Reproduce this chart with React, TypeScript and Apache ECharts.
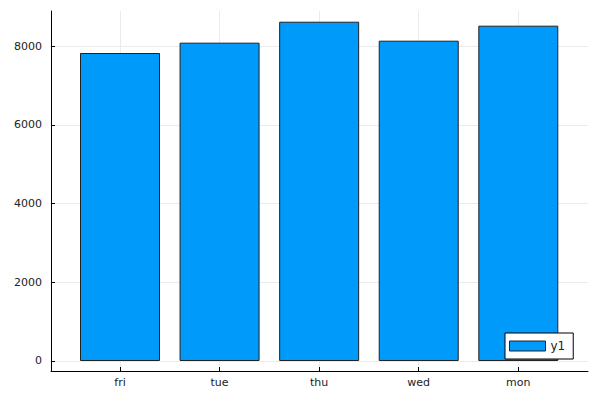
import React, { useEffect, useRef } from "react";
import * as echarts from "echarts";

const categories = ["fri", "tue", "thu", "wed", "mon"];
const values = [7822, 8085, 8617, 8135, 8516];
const yTicks = [0, 2000, 4000, 6000, 8000];
const seriesName = "y1";

export default function App() {
  const ref = useRef<HTMLDivElement>(null);
  useEffect(() => {
    const chart = echarts.init(ref.current!, undefined, { renderer: "svg" });
    const positions = categories.map((_, i) => i + 1);
    const textStyle = { color: "#222", fontFamily: "DejaVu Sans", fontSize: 11 };
    chart.setOption({
      animation: false,
      backgroundColor: "#fff",
      grid: { left: 51, right: 12, top: 11, bottom: 29, outerBoundsMode: "none" },
      xAxis: {
        type: "value",
        min: 0.307,
        max: 5.7,
        axisLine: { show: true, onZero: false, lineStyle: { color: "#000", width: 1 } },
        axisTick: { show: true, inside: true, length: 4, customValues: positions, lineStyle: { color: "#000" } },
        axisLabel: {
          ...textStyle,
          margin: 6,
          customValues: positions,
          formatter: (v: number) => categories[Math.round(v) - 1] ?? "",
        },
        splitLine: { show: true, lineStyle: { color: "#ebebeb", width: 1 } },
      },
      yAxis: {
        type: "value",
        min: -254,
        max: 8889,
        axisLine: { show: true, onZero: false, lineStyle: { color: "#000", width: 1 } },
        axisTick: { show: true, inside: true, length: 4, customValues: yTicks, lineStyle: { color: "#000" } },
        axisLabel: { ...textStyle, margin: 9, customValues: yTicks, formatter: (v: number) => String(v) },
        splitLine: { show: true, lineStyle: { color: "#ebebeb", width: 1 } },
      },
      legend: {
        left: 505,
        top: 333,
        orient: "vertical",
        itemWidth: 36,
        itemHeight: 10,
        itemGap: 4,
        padding: [7, 8, 7, 4],
        borderColor: "#000",
        borderWidth: 1,
        borderRadius: 0,
        backgroundColor: "#fff",
        icon: "rect",
        itemStyle: { borderWidth: 1, borderColor: "#222" },
        textStyle: { color: "#222", fontFamily: "DejaVu Sans", fontSize: 12, padding: [0, 0, 0, 0] },
        data: [seriesName],
      },
      series: [
        {
          name: seriesName,
          type: "bar",
          barWidth: 80,
          data: values.map((v, i) => [positions[i], v]),
          itemStyle: { color: "#009AFA", borderColor: "#222", borderWidth: 1 },
        },
      ],
    });
    return () => chart.dispose();
  }, []);
  return <div ref={ref} style={{ width: 600, height: 400, position: "absolute", left: 0, top: 0 }} />;
}
